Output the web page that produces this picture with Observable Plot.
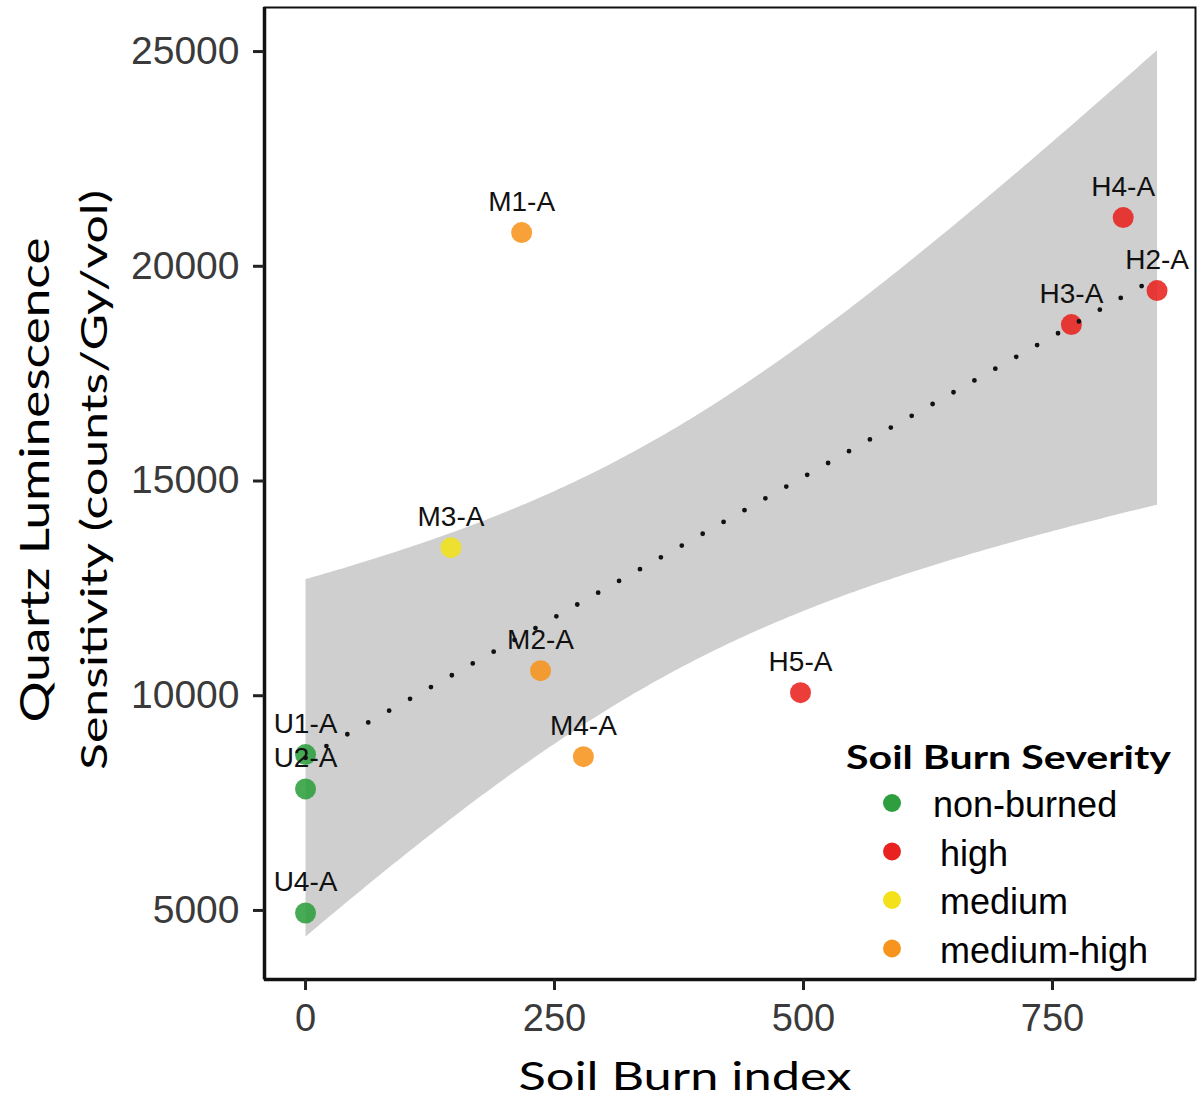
<!DOCTYPE html>
<html><head><meta charset="utf-8">
<script src="https://cdn.jsdelivr.net/npm/d3@7"></script>
<script src="https://cdn.jsdelivr.net/npm/@observablehq/plot@0.6"></script>
<style>body{margin:0;background:#fff} #chart{width:1198px;height:1099px}</style>
</head><body><div id="chart"></div>
<script>
const samples = ["U1-A","U2-A","U4-A","M1-A","M2-A","M3-A","M4-A","H2-A","H3-A","H4-A","H5-A"];
const burnIndex = [0,0,0,217,236,146,279,855,769,821,497];
const sensitivity = [8630,7830,4940,20785,10583,13448,8581,19434,18642,21134,10071];
const severity = ["non-burned","non-burned","non-burned","medium-high","medium-high","medium","medium-high","high","high","high","high"];
const severityLevels = ["non-burned","high","medium","medium-high"];
const severityColors = ["#2E9E3E","#E8221E","#F3E21A","#F7941D"];
const xTicks = [0,250,500,750];
const yTicks = [5000,10000,15000,20000,25000];
const xDomain = [-41.2, 893.6];
const yDomain = [3392, 26026];
const xTitle = "Soil Burn index";
const yTitle1 = "Quartz Luminescence";
const yTitle2 = "Sensitivity (counts/Gy/vol)";
const legendTitle = "Soil Burn Severity";

const data = samples.map((s,i)=>({sample:s, x:burnIndex[i], y:sensitivity[i], severity:severity[i]}));

const plot = Plot.plot({
  width:1198, height:1099, marginLeft:264, marginRight:3, marginTop:7, marginBottom:120,
  style:{fontFamily:"'Liberation Sans', Arial, sans-serif", background:"#fff", color:"#000"},
  x:{domain:xDomain}, y:{domain:yDomain},
  color:{domain:severityLevels, range:severityColors},
  marks:[
    Plot.linearRegressionY(data,{x:"x",y:"y",stroke:"none",fill:"#cfcfcf",fillOpacity:1,ci:0.95}),
    Plot.dot(data,{x:"x",y:"y",fill:"severity",r:10.5,fillOpacity:0.88}),
    Plot.linearRegressionY(data,{x:"x",y:"y",ci:0,stroke:"#111",strokeWidth:4.8,strokeDasharray:"0 24"}),
    Plot.text(data,{x:"x",y:"y",text:"sample",dy:-22,lineAnchor:"bottom",fontSize:28,fill:"#111"}),
    Plot.frame({stroke:"#111",strokeWidth:2}),
    Plot.ruleX([xDomain[0]],{stroke:"#111",strokeWidth:3.5}),
    Plot.ruleY([yDomain[0]],{stroke:"#111",strokeWidth:3.5}),
    Plot.axisX({ticks:xTicks,tickFormat:d3.format("d"),tickSize:11,tickPadding:14,fontSize:38,stroke:"#222",strokeWidth:3,fill:"#3a3a3a",label:null}),
    Plot.axisY({ticks:yTicks,tickFormat:d3.format("d"),tickSize:11,tickPadding:14,fontSize:39,stroke:"#222",strokeWidth:3,fill:"#3a3a3a",label:null})
  ]
});
document.getElementById("chart").appendChild(plot);

const svg = d3.select(plot);
const tf = "Lato, 'Open Sans', sans-serif";
function stretchText(sel, len){ return sel.attr("textLength",len).attr("lengthAdjust","spacingAndGlyphs"); }

svg.append("text").attr("x",685).attr("y",1090).attr("text-anchor","middle")
  .attr("font-family",tf).attr("font-size",38).attr("fill","#000").text(xTitle).call(stretchText,333);

const gy = svg.append("g").attr("transform","rotate(-90)");
gy.append("text").attr("x",-480).attr("y",49).attr("text-anchor","middle")
  .attr("font-family",tf).attr("font-size",40).attr("fill","#000").text(yTitle1).call(stretchText,485);
gy.append("text").attr("x",-480).attr("y",107).attr("text-anchor","middle")
  .attr("font-family",tf).attr("font-size",37).attr("fill","#000").text(yTitle2).call(stretchText,580);

const lg = svg.append("g").attr("text-anchor","start");
lg.append("text").attr("x",846).attr("y",769).attr("text-anchor","start").attr("font-family",tf).attr("font-weight","bold")
  .attr("font-size",33).attr("fill","#000").text(legendTitle).call(stretchText,325);
severityLevels.forEach((lev,i)=>{
  const cy = 803 + i*48.5;
  lg.append("circle").attr("cx",892).attr("cy",cy).attr("r",9).attr("fill",severityColors[i]);
  lg.append("text").attr("x",i===0?933:940).attr("y",cy+14).attr("text-anchor","start")
    .attr("font-family","'Liberation Sans', Arial, sans-serif")
    .attr("font-size",36).attr("fill","#000").text(lev);
});
</script></body></html>
